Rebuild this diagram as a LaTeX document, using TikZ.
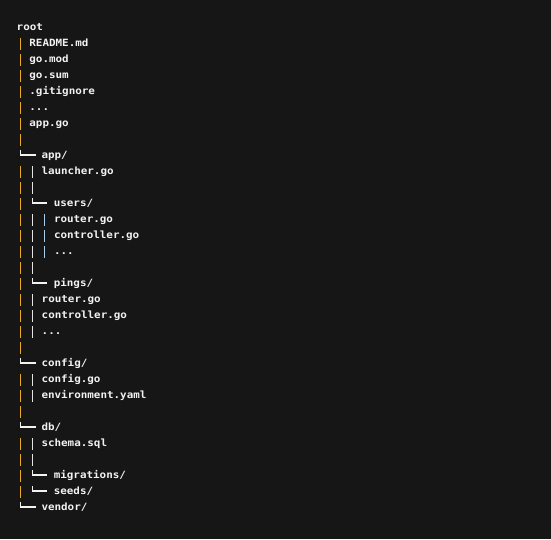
\documentclass[tikz,border=0pt]{standalone}
\usepackage{fontspec}
\newfontfamily\treefont[FakeStretch=1.09]{DejaVu Sans Mono}
\definecolor{bg}{HTML}{161616}
\definecolor{fg}{HTML}{F2F2F2}
\definecolor{lone}{HTML}{E8A82A}
\definecolor{ltwo}{HTML}{E4E4E4}
\definecolor{lthree}{HTML}{A6CDEB}
\tikzset{
  txt/.style={anchor=base west, inner sep=0pt, text=fg, font=\treefont\bfseries\fontsize{10}{12}\selectfont},
  barone/.style={draw=lone, line width=1.6pt},
  bartwo/.style={draw=ltwo, line width=1.4pt},
  barthree/.style={draw=lthree, line width=1.4pt},
  corner/.style={draw=fg, line width=1.3pt},
}
\newcommand{\bl}[1]{30.5+16*#1}
\begin{document}
\begin{tikzpicture}[x=1pt,y=-1pt]
\fill[bg] (0,0) rectangle (551,539);
\useasboundingbox (0,0) rectangle (551,539);
% level-1 bars
\foreach \i in {1,...,7,9,10,...,20,22,23,24,26,27,28,29}
  \draw[barone] (20.3,{\bl{\i}-8.5}) -- (20.3,{\bl{\i}+3.5});
\foreach \i in {8,21,25,30}
  \draw[corner] (20.3,{\bl{\i}-8.5}) -- (20.3,{\bl{\i}-3.5}) -- (35.5,{\bl{\i}-3.5});
% level-2 bars
\foreach \i in {9,10,12,13,14,15,17,18,19,22,23,26,27}
  \draw[bartwo] (32.2,{\bl{\i}-8.5}) -- (32.2,{\bl{\i}+3.5});
\foreach \i in {11,16,28,29}
  \draw[corner] (32.2,{\bl{\i}-8.5}) -- (32.2,{\bl{\i}-3.5}) -- (47.3,{\bl{\i}-3.5});
% level-3 bars
\foreach \i in {12,13,14}
  \draw[barthree] (44.6,{\bl{\i}-8.5}) -- (44.6,{\bl{\i}+3.5});
% texts
\node[txt] (n0)  at (16.5,{\bl{0}})  {root};
\node[txt] (n1)  at (29.2,{\bl{1}})  {README.md};
\node[txt] (n2)  at (29.2,{\bl{2}})  {go.mod};
\node[txt] (n3)  at (29.2,{\bl{3}})  {go.sum};
\node[txt] (n4)  at (29.2,{\bl{4}})  {.gitignore};
\node[txt] (n5)  at (29.2,{\bl{5}})  {...};
\node[txt] (n6)  at (29.2,{\bl{6}})  {app.go};
\node[txt] (n8)  at (41.3,{\bl{8}})  {app/};
\node[txt] (n9)  at (41.3,{\bl{9}})  {launcher.go};
\node[txt] (n11) at (53.6,{\bl{11}}) {users/};
\node[txt] (n12) at (53.8,{\bl{12}}) {router.go};
\node[txt] (n13) at (53.8,{\bl{13}}) {controller.go};
\node[txt] (n14) at (53.8,{\bl{14}}) {...};
\node[txt] (n16) at (53.6,{\bl{16}}) {pings/};
\node[txt] (n17) at (41.5,{\bl{17}}) {router.go};
\node[txt] (n18) at (41.5,{\bl{18}}) {controller.go};
\node[txt] (n19) at (41.5,{\bl{19}}) {...};
\node[txt] (n21) at (41.3,{\bl{21}}) {config/};
\node[txt] (n22) at (41.3,{\bl{22}}) {config.go};
\node[txt] (n23) at (41.3,{\bl{23}}) {environment.yaml};
\node[txt] (n25) at (41.3,{\bl{25}}) {db/};
\node[txt] (n26) at (41.3,{\bl{26}}) {schema.sql};
\node[txt] (n28) at (53.6,{\bl{28}}) {migrations/};
\node[txt] (n29) at (53.6,{\bl{29}}) {seeds/};
\node[txt] (n30) at (41.3,{\bl{30}}) {vendor/};
\end{tikzpicture}
\end{document}
